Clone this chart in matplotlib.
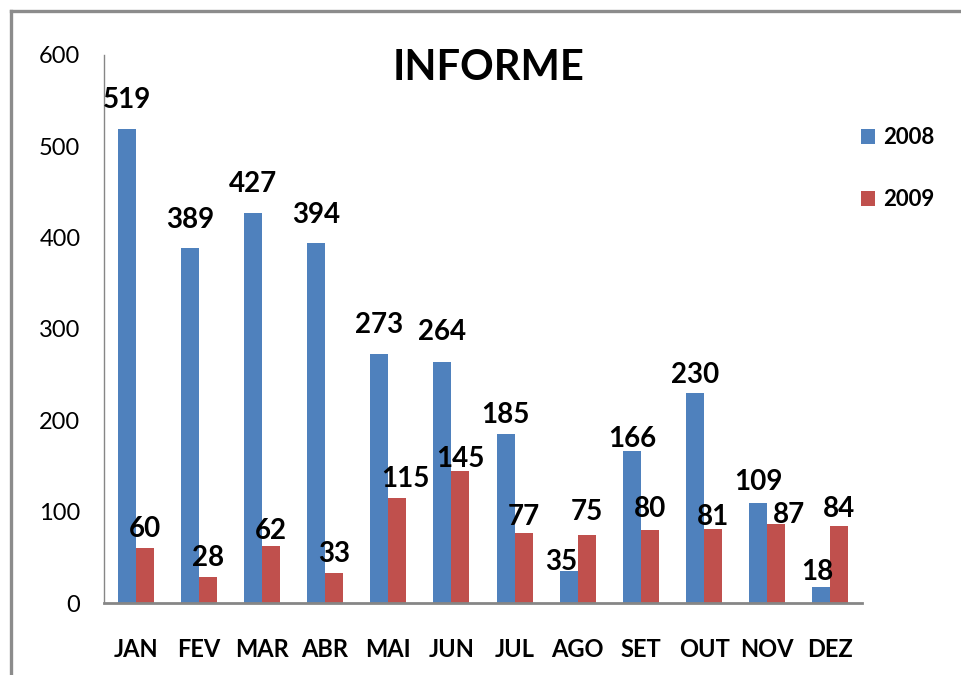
import matplotlib
matplotlib.use("Agg")
import matplotlib.pyplot as plt
import numpy as np
from matplotlib.lines import Line2D

months = ["JAN", "FEV", "MAR", "ABR", "MAI", "JUN", "JUL", "AGO", "SET", "OUT", "NOV", "DEZ"]
vals_2008 = [519, 389, 427, 394, 273, 264, 185, 35, 166, 230, 109, 18]
vals_2009 = [60, 28, 62, 33, 115, 145, 77, 75, 80, 81, 87, 84]
series_names = ["2008", "2009"]
yticks = [0, 100, 200, 300, 400, 500, 600]

# label nudges in pixels (dx, gap above bar top)
dx_2008 = [0, 0, 0, 0, 0, 0, 0, -8, 0, 0, 0, -4]
gap_2008 = [21, 20, 21, 20, 21, 22, 11, 1, 4, 10, 13, 7]
dx_2009 = [0, 0, 0, 0, 8, 0, 0, 0, 0, 0, 13, 0]
gap_2009 = [11, 11, 7, 11, 11, 4, 8, 14, 13, 4, 1, 9]

BLUE = "#4F81BD"
RED = "#C0504D"
GRAY = "#868686"
FONT = "Lato"
W, H = 961, 675

plt.rcParams["font.family"] = [FONT, "DejaVu Sans"]

fig = plt.figure(figsize=(W / 100, H / 100), dpi=100)
ax = fig.add_axes([104 / W, 1 - 603 / H, (862 - 104) / W, (603 - 55) / H])

x = np.arange(len(months))
bw = 0.285
b1 = ax.bar(x - bw / 2, vals_2008, bw, color=BLUE, label=series_names[0])
b2 = ax.bar(x + bw / 2, vals_2009, bw, color=RED, label=series_names[1])

px = 0.72  # points per pixel
for rects, vals, dxs, gaps in ((b1, vals_2008, dx_2008, gap_2008),
                               (b2, vals_2009, dx_2009, gap_2009)):
    for r, v, dx, g in zip(rects, vals, dxs, gaps):
        ax.annotate(str(v), (r.get_x() + r.get_width() / 2, v),
                    textcoords="offset points", xytext=(dx * px, g * px),
                    ha="center", va="baseline", fontsize=20,
                    fontweight="bold", color="black")

ax.set_xlim(-0.5, len(months) - 0.5)
ax.set_ylim(0, 600)
ax.set_yticks(yticks)
ax.set_yticklabels([str(t) for t in yticks], fontsize=17)
ax.set_xticks(x)
ax.set_xticklabels(months, fontsize=17, fontweight="bold")
ax.tick_params(axis="y", length=0, pad=17)
ax.tick_params(axis="x", length=0, pad=25)

for s in ("top", "right"):
    ax.spines[s].set_visible(False)
ax.spines["left"].set_color(GRAY)
ax.spines["left"].set_linewidth(1.0)
ax.spines["bottom"].set_color(GRAY)
ax.spines["bottom"].set_linewidth(2.0)

fig.text(489 / W, 1 - 80 / H, "INFORME", ha="center", va="baseline",
         fontsize=30, fontweight="bold")

leg = fig.legend(handles=[b1, b2], labels=series_names,
                 loc="upper left", bbox_to_anchor=(861 / W, 1 - 127 / H),
                 frameon=False, borderpad=0, borderaxespad=0,
                 handlelength=0.65, handleheight=0.65, handletextpad=0.35,
                 labelspacing=1.85, prop={"family": FONT, "size": 16, "weight": "bold"})

# outer chart frame (left and top edges visible)
fig.add_artist(Line2D([11 / W, 11 / W], [0, 1 - 11 / H], color="#8c8c8c",
                      linewidth=2.4, transform=fig.transFigure))
fig.add_artist(Line2D([11 / W, 1], [1 - 11 / H, 1 - 11 / H], color="#8c8c8c",
                      linewidth=2.4, transform=fig.transFigure))

fig.savefig("out.png", dpi=100)
